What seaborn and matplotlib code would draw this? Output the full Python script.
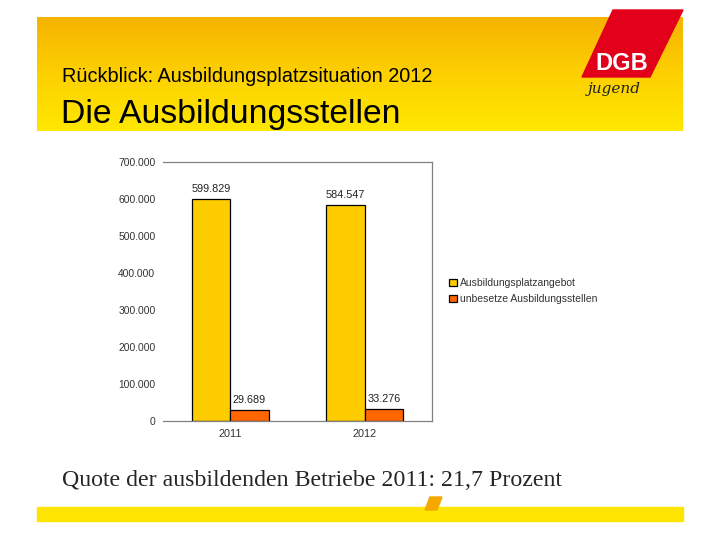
import numpy as np
import pandas as pd
import matplotlib
matplotlib.use('Agg')
import matplotlib.pyplot as plt
from matplotlib.patches import Polygon, Rectangle
from matplotlib.colors import LinearSegmentedColormap
import seaborn as sns

# Data
years = ['2011', '2012']
angebot = [599829, 584547]
unbesetzt = [29689, 33276]
series_names = ['Ausbildungsplatzangebot', 'unbesetze Ausbildungsstellen']
bar_colors = ['#FFCC00', '#FF6600']
y_ticks = [0, 100000, 200000, 300000, 400000, 500000, 600000, 700000]

df = pd.DataFrame({
    'Jahr': years * 2,
    'Wert': angebot + unbesetzt,
    'Reihe': [series_names[0]] * 2 + [series_names[1]] * 2,
})

sns.set_theme(style='white')
plt.rcParams['font.family'] = ['Liberation Sans', 'DejaVu Sans']

fig = plt.figure(figsize=(7.2, 5.4), dpi=100)
W, H = 720, 540

def fx(px):
    return px / W

def fy(py):
    return 1 - py / H

def dots(v):
    return f'{int(v):,}'.replace(',', '.')

# Banner with gradient
banner = fig.add_axes([fx(37), fy(131), fx(683) - fx(37), fy(17) - fy(131)])
grad = np.linspace(0, 1, 256).reshape(-1, 1)
cmap = LinearSegmentedColormap.from_list('banner', ['#F5B300', '#FDD000', '#FFE800'])
banner.imshow(grad, aspect='auto', cmap=cmap, extent=[0, 1, 0, 1], origin='upper')
banner.set_axis_off()

fig.text(fx(62), fy(77), 'Rückblick: Ausbildungsplatzsituation 2012', fontsize=14.3,
         color='black', va='center', ha='left')
fig.text(fx(61), fy(114), 'Die Ausbildungsstellen', fontsize=24.3,
         color='black', va='center', ha='left')

# Logo and decorations
overlay = fig.add_axes([0, 0, 1, 1], zorder=5)
overlay.set_xlim(0, W)
overlay.set_ylim(H, 0)
overlay.set_axis_off()
overlay.add_patch(Polygon([(613, 10), (683, 10), (650, 77), (582, 77)],
                          closed=True, color='#E3001B'))
overlay.text(622, 64, 'DGB', fontsize=17, fontweight='bold', color='white',
             ha='center', va='center')
overlay.text(614, 89, 'jugend', fontsize=11, style='italic', color='#222222',
             ha='center', va='center', family=['DejaVu Serif'])

overlay.add_patch(Rectangle((37, 507), 646, 14, color='#FFE600'))
overlay.add_patch(Polygon([(430, 497), (442, 497), (437, 510), (425, 510)],
                          closed=True, color='#F5A800'))

fig.text(fx(62), fy(480), 'Quote der ausbildenden Betriebe 2011: 21,7 Prozent',
         fontsize=17.2, family=['Liberation Serif'], va='center', ha='left')

# Chart
ax = fig.add_axes([fx(163), fy(421), fx(432) - fx(163), fy(162) - fy(421)])
sns.barplot(data=df, x='Jahr', y='Wert', hue='Reihe', palette=bar_colors,
            saturation=1, width=0.57, gap=0, edgecolor='black', linewidth=0.9,
            ax=ax, legend=True)

ax.set_ylim(0, 700000)
ax.set_yticks(y_ticks)
ax.set_yticklabels([dots(v) for v in y_ticks], fontsize=7.4, color='#333333')
ax.tick_params(axis='x', labelsize=7.8, colors='#333333', length=0, pad=6)
ax.tick_params(axis='y', length=0, pad=5.5)
ax.set_xlabel('')
ax.set_ylabel('')
ax.spines['left'].set_visible(False)
for s in ['top', 'right', 'bottom']:
    ax.spines[s].set_color('#808080')
    ax.spines[s].set_linewidth(0.9)

for bar in ax.patches:
    h = bar.get_height()
    if not h or np.isnan(h):
        continue
    ax.text(bar.get_x() + bar.get_width() / 2, h + 14000, dots(h),
            ha='center', va='bottom', fontsize=7.8, color='#222222')

handles, labels = ax.get_legend_handles_labels()
ax.get_legend().remove()
fig.legend(handles, labels, loc='center left',
           bbox_to_anchor=(fx(440), fy(291)), frameon=False, fontsize=7.5,
           handlelength=0.7, handleheight=0.7, handletextpad=0.3,
           labelspacing=0.55, labelcolor='#333333')

fig.savefig('out.png', dpi=100)
